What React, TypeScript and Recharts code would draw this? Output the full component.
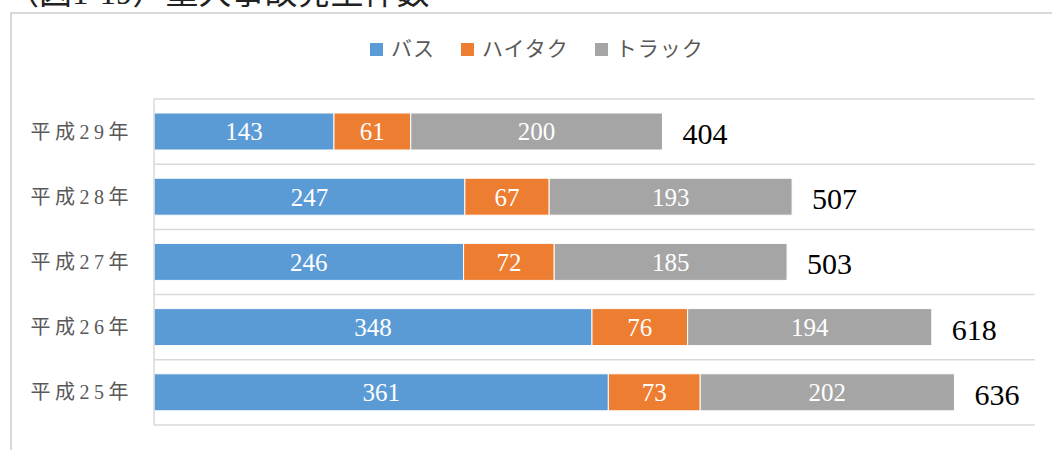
import React from "react";
import { BarChart, Bar, XAxis, YAxis, CartesianGrid, LabelList } from "recharts";

const categories = ["平成29年", "平成28年", "平成27年", "平成26年", "平成25年"];
const bus = [143, 247, 246, 348, 361];
const hitaku = [61, 67, 72, 76, 73];
const truck = [200, 193, 185, 194, 202];
const totals = [404, 507, 503, 618, 636];

const seriesNames = ["バス", "ハイタク", "トラック"];
const seriesColors = ["#5b9bd5", "#ed7d31", "#a5a5a5"];

const data = categories.map((name, i) => ({
  name,
  bus: bus[i],
  hitaku: hitaku[i],
  truck: truck[i],
  total: totals[i],
}));

const SERIF = "'Liberation Serif', 'Noto Sans CJK JP', serif";
const JP = "'Noto Sans CJK JP', sans-serif";

function CategoryTick(props: any) {
  const { x, y, payload } = props;
  return (
    <text
      x={x}
      y={y}
      dy={7}
      textAnchor="end"
      fill="#595959"
      fontSize={20}
      fontFamily={SERIF}
      style={{ letterSpacing: "4.5px" }}
    >
      {payload.value}
    </text>
  );
}

function TotalLabel(props: any) {
  const { x, y, width, height, value } = props;
  return (
    <text
      x={x + width + 20}
      y={y + height / 2 + 2}
      dominantBaseline="central"
      fill="#000"
      fontSize={30}
      fontFamily={SERIF}
    >
      {value}
    </text>
  );
}

const segLabel = { fill: "#ffffff", fontSize: 25, fontFamily: SERIF };

export default function App() {
  return (
    <div
      style={{
        position: "fixed",
        left: 0,
        top: 0,
        width: 1052,
        height: 450,
        overflow: "hidden",
        background: "#fff",
      }}
    >
      <div
        style={{
          position: "absolute",
          left: 6,
          top: -23,
          fontSize: 33,
          lineHeight: "33px",
          fontFamily: SERIF,
          color: "#222",
          whiteSpace: "nowrap",
        }}
      >
        （図1-19）重大事故発生件数
      </div>
      <div
        style={{
          position: "absolute",
          left: 10,
          top: 12,
          width: 1100,
          height: 500,
          border: "2px solid #d9d9d9",
          boxSizing: "border-box",
        }}
      />
      <div
        style={{
          position: "absolute",
          left: 370,
          top: 37,
          display: "flex",
          alignItems: "center",
          fontFamily: JP,
          fontSize: 21,
          lineHeight: "21px",
          color: "#595959",
          letterSpacing: "1px",
        }}
      >
        {seriesNames.map((n, i) => (
          <div key={n} style={{ display: "flex", alignItems: "center", marginRight: 26 }}>
            <span
              style={{
                display: "inline-block",
                width: 13,
                height: 13,
                background: seriesColors[i],
                marginRight: 8,
                marginTop: 4,
              }}
            />
            <span>{n}</span>
          </div>
        ))}
      </div>
      <div style={{ position: "absolute", left: 0, top: 0 }}>
        <BarChart
          width={1052}
          height={450}
          data={data}
          layout="vertical"
          margin={{ top: 99, right: 17, bottom: 25, left: 0 }}
          barSize={37}
        >
          <CartesianGrid
            vertical={false}
            stroke="#d9d9d9"
            strokeWidth={1.5}
            horizontalCoordinatesGenerator={({ offset }: any) =>
              Array.from(
                { length: categories.length + 1 },
                (_, i) => offset.top + (i * offset.height) / categories.length
              )
            }
          />
          <XAxis type="number" domain={[0, 700]} hide />
          <YAxis
            type="category"
            dataKey="name"
            width={154}
            axisLine={{ stroke: "#d9d9d9", strokeWidth: 1.5 }}
            tickLine={false}
            tickSize={0}
            tickMargin={21}
            tick={<CategoryTick />}
          />
          <Bar dataKey="bus" stackId="a" fill={seriesColors[0]} stroke="#ffffff" strokeWidth={1} isAnimationActive={false}>
            <LabelList dataKey="bus" position="center" {...segLabel} />
          </Bar>
          <Bar dataKey="hitaku" stackId="a" fill={seriesColors[1]} stroke="#ffffff" strokeWidth={1} isAnimationActive={false}>
            <LabelList dataKey="hitaku" position="center" {...segLabel} />
          </Bar>
          <Bar dataKey="truck" stackId="a" fill={seriesColors[2]} stroke="#ffffff" strokeWidth={1} isAnimationActive={false}>
            <LabelList dataKey="truck" position="center" {...segLabel} />
            <LabelList dataKey="total" content={<TotalLabel />} />
          </Bar>
        </BarChart>
      </div>
    </div>
  );
}
